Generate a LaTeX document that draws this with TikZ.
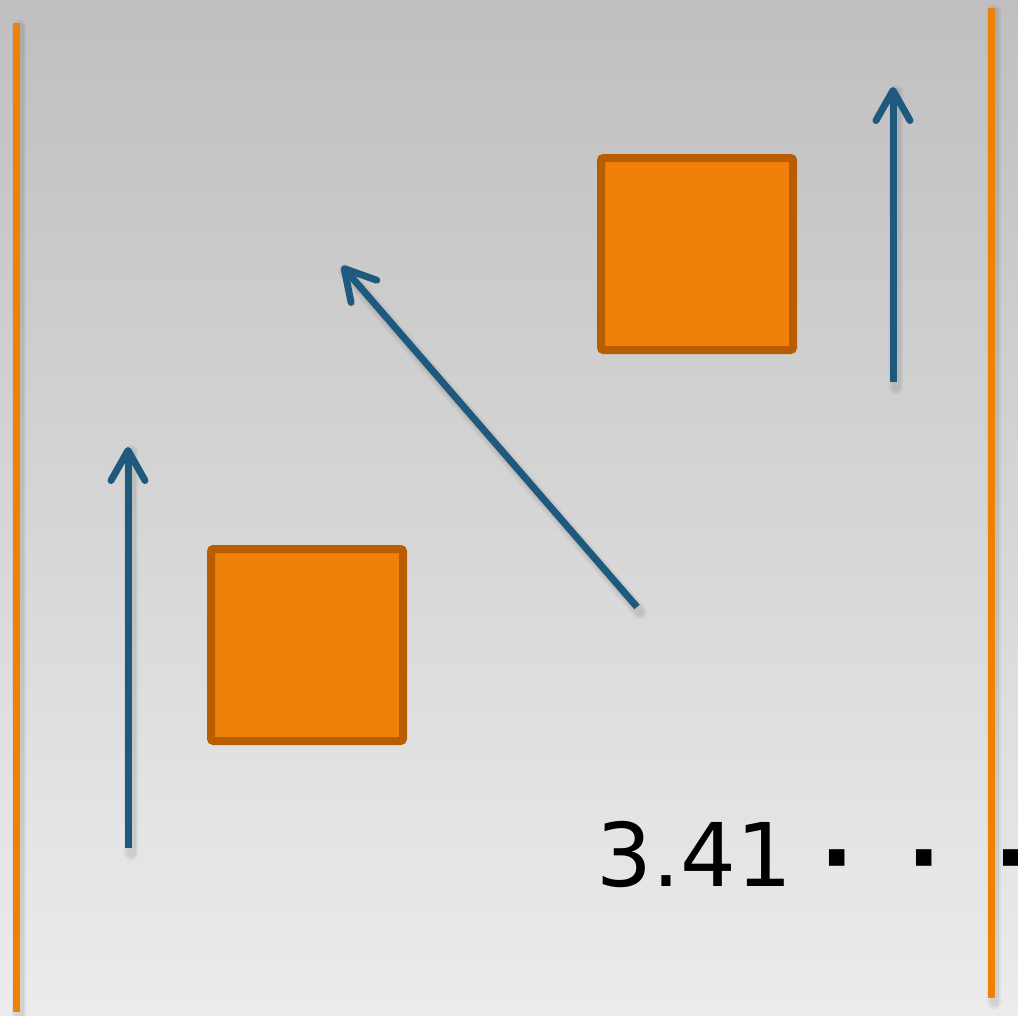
\documentclass[tikz,border=0pt]{standalone}
\usepackage{fontspec}
\setmainfont{DejaVu Sans}
\usetikzlibrary{arrows.meta}
\definecolor{bgtop}{RGB}{191,191,191}
\definecolor{bgbot}{RGB}{236,236,236}
\definecolor{org}{RGB}{240,128,10}
\definecolor{orgdark}{RGB}{184,94,0}
\definecolor{arrblue}{RGB}{31,90,126}
\tikzset{
  orgline/.style={draw=org, line width=0.7mm},
  orgbox/.style={draw=orgdark, fill=org, line width=0.8mm, minimum size=19.2mm, inner sep=0pt, rounded corners=0.25mm},
  bluearrow/.style={draw=arrblue, line width=0.7mm, -{Straight Barb[length=3mm,width=3.4mm,line join=round,line cap=round]}},
  shadowA/.style={draw=black, opacity=0.05, line width=1.4mm, line cap=round},
  shadowB/.style={draw=black, opacity=0.06, line width=0.9mm, line cap=round},
  numtext/.style={inner sep=0pt, font=\fontsize{25pt}{29pt}\selectfont},
  dottext/.style={inner sep=0pt, font=\fontsize{25pt}{29pt}\selectfont\bfseries}
}
\begin{document}
\begin{tikzpicture}[x=0.1mm,y=-0.1mm]
\shade[top color=bgtop,bottom color=bgbot] (0,0) rectangle (1018,1015);
\useasboundingbox (0,0) rectangle (1018,1015);
\clip (0,0) rectangle (1018,1015);
% vertical orange lines
\coordinate (l1t) at (16,23);
\coordinate (l1b) at (16,1012);
\coordinate (l2t) at (991,8);
\coordinate (l2b) at (991,998);
\foreach \p/\q in {l1t/l1b,l2t/l2b}{
  \draw[shadowA] ([shift={(3,4)}]\p) -- ([shift={(3,4)}]\q);
  \draw[shadowB] ([shift={(3,4)}]\p) -- ([shift={(3,4)}]\q);
}
\draw[orgline] (l1t) -- (l1b);
\draw[orgline] (l2t) -- (l2b);
% squares
\node[orgbox] (sq1) at (307,645) {};
\node[orgbox] (sq2) at (697,254) {};
% arrows
\coordinate (a1s) at (128,848);
\coordinate (a1e) at (128,447);
\coordinate (a2s) at (637,607);
\coordinate (a2e) at (342,266);
\coordinate (a3s) at (893,382);
\coordinate (a3e) at (893,87);
\foreach \p/\q in {a1s/a1e,a2s/a2e,a3s/a3e}{
  \draw[shadowA] ([shift={(3,5)}]\p) -- ([shift={(3,5)}]\q);
  \draw[shadowB] ([shift={(3,5)}]\p) -- ([shift={(3,5)}]\q);
}
\draw[bluearrow] (a1s) -- (a1e);
\draw[bluearrow] (a2s) -- (a2e);
\draw[bluearrow] (a3s) -- (a3e);
% text
\node[numtext, anchor=base west] (num) at (596,886) {3.41};
\node[dottext, anchor=base] (d1) at (837,888) {·};
\node[dottext, anchor=base] (d2) at (924,888) {·};
\node[dottext, anchor=base] (d3) at (1011,888) {·};
\end{tikzpicture}
\end{document}
